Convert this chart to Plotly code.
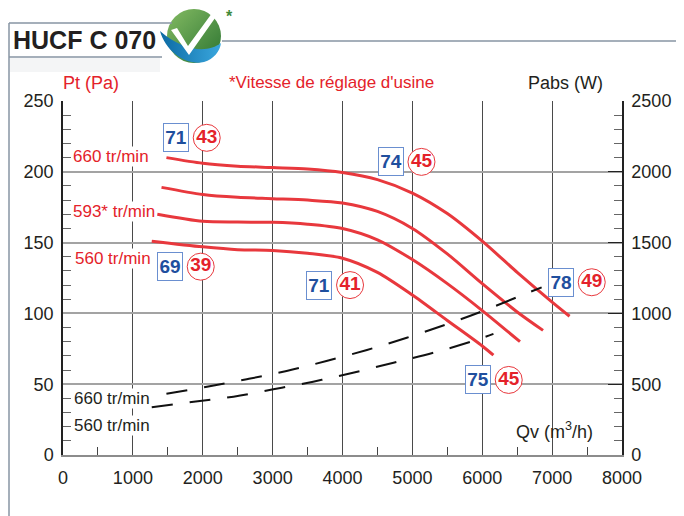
import base64
import plotly.graph_objects as go

# Pt (Pa) curves, Qv in m3/h
q_660 = [1480, 2000, 2500, 3000, 3500, 4000, 4500, 5000, 5500, 6000, 6500, 7000, 7250]
pt_660 = [210, 206, 204, 203, 202, 199.5, 194.5, 185, 170.5, 151, 129, 108, 98]
q_627 = [1410, 2000, 2500, 3000, 3500, 4000, 4500, 5000, 5500, 6000, 6500, 6870]
pt_627 = [189, 184, 182, 181, 180, 178, 172, 160, 142, 121, 101, 88]
q_593 = [1350, 2000, 2500, 3000, 3500, 4000, 4500, 5000, 5500, 6000, 6540]
pt_593 = [170, 165, 164.5, 164.3, 163, 160, 152, 138, 121, 102, 80]
q_560 = [1270, 2000, 2500, 3000, 3500, 4000, 4500, 5000, 5500, 6000, 6160]
pt_560 = [151, 147, 145, 144.5, 142.5, 139, 129, 113, 95, 77, 70.5]

# Pabs (W) curves
q_pabs_660 = [1480, 2060, 2630, 3200, 3770, 4350, 4920, 5490, 6020, 6540, 6850]
w_pabs_660 = [432, 482, 535, 593, 664, 742, 828, 923, 1019, 1123, 1184]
q_pabs_560 = [1270, 1870, 2440, 3010, 3580, 4150, 4730, 5300, 5870, 6160]
w_pabs_560 = [337, 376, 412, 464, 518, 581, 652, 722, 805, 855]

# acoustic labels: box (blue) + circle (red), placed in (Qv, Pt)
tag_q = [1617, 1531, 4690, 3668, 7127, 5939]
tag_p = [224, 133, 207, 120, 122, 53]
tag_box = ["71", "69", "74", "71", "78", "75"]
tag_circle = ["43", "39", "45", "41", "49", "45"]

RED = "#e8383d"
RED_TXT = "#e4222a"
BLUE = "#1f4f9e"
INK = "#231f20"
SANS = "Liberation Sans, Arial, sans-serif"

# the page body adds an 8px margin, so the figure is a bit smaller and shifted
OFF = 8
W, H = 684 - OFF, 516 - OFF
ML, MR, MT, MB = 63 - OFF, 62, 101 - OFF, 61
PW, PH = W - ML - MR, H - MT - MB


def fx(px):
    return (px - OFF - ML) / PW


def fy(py):
    return (H - MB - (py - OFF)) / PH


fig = go.Figure()

for q, p in [(q_660, pt_660), (q_627, pt_627), (q_593, pt_593), (q_560, pt_560)]:
    fig.add_trace(go.Scatter(x=q, y=p, mode="lines",
                             line=dict(color=RED, width=3, shape="spline", smoothing=0.8),
                             showlegend=False, hoverinfo="skip"))

for q, w in [(q_pabs_660, w_pabs_660), (q_pabs_560, w_pabs_560)]:
    fig.add_trace(go.Scatter(x=q, y=w, yaxis="y2", mode="lines",
                             line=dict(color="#111", width=2, dash="21px,17px", shape="spline"),
                             showlegend=False, hoverinfo="skip"))

# red circles with numbers
fig.add_trace(go.Scatter(
    x=[q + 440 for q in tag_q], y=tag_p, mode="markers+text",
    marker=dict(symbol="circle", size=27, color="white", line=dict(color=RED, width=1)),
    text=[f"<b>{t}</b>" for t in tag_circle], textposition="middle center",
    textfont=dict(family=SANS, size=19, color=RED_TXT),
    showlegend=False, hoverinfo="skip",
))

for q, p, t in zip(tag_q, tag_p, tag_box):
    fig.add_annotation(x=q, y=p, text=f"<b>{t}</b>", showarrow=False,
                       font=dict(family=SANS, size=19, color=BLUE),
                       bgcolor="white", bordercolor="#6a8fd0", borderwidth=1,
                       width=24, height=27, borderpad=0)


# texts placed in pixel positions
def label(px, py, text, color, size, anchor="left", bg=None):
    fig.add_annotation(x=fx(px), y=fy(py), xref="paper", yref="paper", text=text,
                       showarrow=False, xanchor=anchor, yanchor="middle",
                       font=dict(family=SANS, size=size, color=color),
                       bgcolor=bg, borderpad=0)


label(12, 40, "<b>HUCF C 070</b>", INK, 25)
label(62, 83, "Pt (Pa)", RED_TXT, 18)
label(228, 83, "*Vitesse de réglage d'usine", RED_TXT, 17)
label(604, 83, "Pabs (W)", INK, 18, anchor="right")
label(515, 430, "Qv (m<sup>3</sup>/h)", INK, 18)
label(72, 156, "660 tr/min", RED_TXT, 17, bg="white")
label(72, 211, "593* tr/min", RED_TXT, 17, bg="white")
label(74, 258, "560 tr/min", RED_TXT, 17, bg="white")
label(73, 398, "660 tr/min", INK, 17, bg="white")
label(73, 425, "560 tr/min", INK, 17, bg="white")
label(225, 17, "<b>*</b>", "#3f8a3a", 16)

# frame
FRAME = "#8795a3"
for x0, y0, x1, y1 in [(9, 23, 9, 516), (9, 23, 172, 23), (9, 57, 162, 57), (222, 41, 684, 41)]:
    fig.add_shape(type="line", xref="paper", yref="paper", x0=fx(x0), y0=fy(y0), x1=fx(x1), y1=fy(y1),
                  line=dict(color=FRAME, width=1.5))
fig.add_shape(type="rect", xref="paper", yref="paper", x0=fx(10), y0=fy(58), x1=fx(160), y1=fy(72),
              line=dict(width=0), fillcolor="rgba(120,130,140,0.08)", layer="below")

logo = """<svg xmlns='http://www.w3.org/2000/svg' width='72' height='62' viewBox='0 0 72 62'>
<defs>
<linearGradient id='g' x1='0' y1='0' x2='1' y2='1'><stop offset='0' stop-color='#84bb63'/><stop offset='1' stop-color='#2c7431'/></linearGradient>
<linearGradient id='b' x1='0' y1='0' x2='1' y2='0'><stop offset='0' stop-color='#0c6aa3'/><stop offset='1' stop-color='#3aa7de'/></linearGradient>
</defs>
<circle cx='36' cy='30' r='27' fill='url(#g)'/>
<path d='M2 25 C 8 46, 28 60, 46 56 C 56 53, 62 45, 63 37 C 50 47, 26 46, 2 25 Z' fill='url(#b)'/>
<path d='M13 24 L 19 22 L 30 40 L 57 3 L 62 5 L 31 49 Z' fill='white'/>
</svg>"""
fig.add_layout_image(dict(
    source="data:image/svg+xml;base64," + base64.b64encode(logo.encode()).decode(),
    xref="paper", yref="paper", x=fx(158), y=fy(6), sizex=72 / PW, sizey=62 / PH,
    xanchor="left", yanchor="top", sizing="stretch", layer="above",
))

tickfont = dict(family=SANS, size=18, color=INK)
fig.update_layout(
    width=W, height=H,
    margin=dict(l=ML, r=MR, t=MT, b=MB, autoexpand=False),
    paper_bgcolor="white", plot_bgcolor="white",
    xaxis=dict(range=[0, 8000], dtick=1000, showgrid=True, gridcolor="#4a4a4a", gridwidth=1,
               zeroline=False, showline=True, linecolor="#8c8c8c", linewidth=1.5, automargin=False,
               ticks="", tickfont=tickfont, ticklabelstandoff=6,
               minor=dict(dtick=500, ticks="inside", ticklen=8, tickcolor="#444", showgrid=False)),
    yaxis=dict(range=[0, 250], dtick=50, showgrid=True, gridcolor="#a3a3a3", gridwidth=1.5,
               zeroline=False, showline=True, linecolor="#222", linewidth=1.5, automargin=False,
               ticks="", tickfont=tickfont, ticklabelstandoff=4,
               minor=dict(dtick=10, ticks="inside", ticklen=8, tickcolor="#666", showgrid=False)),
    yaxis2=dict(range=[0, 2500], dtick=500, overlaying="y", side="right", showgrid=False,
                zeroline=False, showline=True, linecolor="#222", linewidth=1.5, automargin=False,
                ticks="inside", ticklen=14, tickcolor="#222", tickfont=tickfont, ticklabelstandoff=4,
                minor=dict(dtick=100, ticks="inside", ticklen=8, tickcolor="#666")),
)

fig.write_html("out.html")
